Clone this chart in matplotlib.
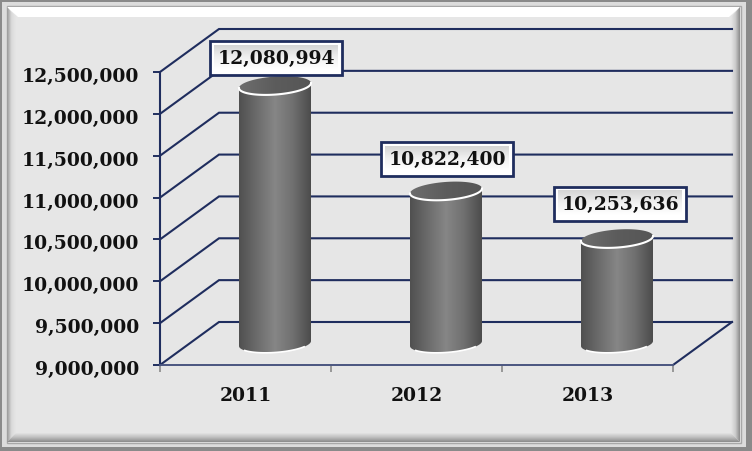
import numpy as np
import matplotlib
matplotlib.use('Agg')
import matplotlib.pyplot as plt
from matplotlib.patches import Polygon, Rectangle
from matplotlib.colors import LinearSegmentedColormap
from matplotlib.transforms import ScaledTranslation

years = ['2011', '2012', '2013']
values = [12080994, 10822400, 10253636]
value_labels = ['12,080,994', '10,822,400', '10,253,636']
yticks = [9000000, 9500000, 10000000, 10500000, 11000000, 11500000, 12000000, 12500000]
ytick_labels = ['9,000,000', '9,500,000', '10,000,000', '10,500,000', '11,000,000', '11,500,000', '12,000,000', '12,500,000']

W, H = 752, 452
DX, DY = 59, -43
NAVY = '#1f2d5e'
FACE = '#e6e6e6'
label_shift = [(1, -28), (1, -32), (3, -35)]

plt.rcParams['font.family'] = ['DejaVu Serif']
plt.rcParams['font.weight'] = 'bold'
fig = plt.figure(figsize=(W/100, H/100), dpi=100, facecolor=FACE)


def pixel_axes(z):
  a = fig.add_axes([0, 0, 1, 1], zorder=z)
  a.set_axis_off()
  return a


def grad(a, box, colors, horizontal=True, clip=None, z=1):
  # box is x0,x1,y0,y1 in pixels, colors run left to right or top to bottom
  cm = LinearSegmentedColormap.from_list('g', colors)
  g = np.linspace(0, 1, 128)
  g = g[None, :] if horizontal else g[:, None]
  im = a.imshow(g, cmap=cm, extent=(box[0], box[1], box[3], box[2]), aspect='auto', zorder=z, interpolation='bilinear')
  if clip is not None:
    p = Polygon(clip, closed=True, transform=a.transData)
    im.set_clip_path(p)
  return im


bg = pixel_axes(0)
ax = fig.add_axes([160/W, (H-366)/H, 513/W, 293/H], zorder=1)
over = pixel_axes(3)

# outer frame and bevel
bg.add_patch(Rectangle((0, 0), W, H, fc='#dcdcdc', ec='none', zorder=0))
for r in [(0, 0, W, 2.5), (0, H-4.5, W, 4.5), (0, 0, 2, H), (W-6, 0, 6, H)]:
  bg.add_patch(Rectangle((r[0], r[1]), r[2], r[3], fc='#8a8a8a', ec='none', zorder=5))
bg.add_patch(Rectangle((6.5, 6.5), 734, 437, fc=FACE, ec='#a8a8a8', lw=1, zorder=0.5))
grad(bg, (7, 740, 8, 18), ['#ffffff', '#ffffff'], False, [(7, 8), (740, 8), (729, 18), (18, 18)])
grad(bg, (7, 16, 8, 443), ['#989898', '#dadada', FACE], True, [(7, 8), (16, 18), (16, 434), (7, 443)])
grad(bg, (731, 740, 8, 443), [FACE, '#cccccc', '#8a8a8a'], True, [(740, 8), (731, 18), (731, 434), (740, 443)])
grad(bg, (7, 740, 434, 443), ['#e4e4e4', '#bcbcbc', '#8a8a8a'], False, [(16, 434), (731, 434), (740, 443), (7, 443)])

# value axis and categories, true scale lives on ax
ax.patch.set_visible(False)
ax.set_xlim(-0.5, 2.5)
ax.set_ylim(9000000, 12500000)
ax.set_yticks(yticks)
ax.set_yticklabels(ytick_labels)
ax.set_xticks([-0.5, 0.5, 1.5, 2.5])
ax.set_xticklabels([])
ax.set_xticks([0, 1, 2], minor=True)
ax.set_xticklabels(years, minor=True)
ax.tick_params(axis='y', length=5, width=1.4, color=NAVY, pad=10, labelsize=13.5, labelcolor='#111111')
ax.tick_params(axis='x', which='major', length=5, width=1.2, color='#8a8a8a')
ax.tick_params(axis='x', which='minor', length=0, pad=15, labelsize=13.5, labelcolor='#111111')
for s in ['top', 'right']:
  ax.spines[s].set_visible(False)
ax.spines['left'].set_color(NAVY)
ax.spines['left'].set_linewidth(1.5)
ax.spines['bottom'].set_color('#4a5680')
ax.spines['bottom'].set_linewidth(1.4)
for lab in ax.get_yticklabels():
  lab.set_transform(lab.get_transform() + ScaledTranslation(0, -2/100, fig.dpi_scale_trans))


def to_px(x, v):
  px = ax.transData.transform((x, v))
  return px[0], H - px[1]


# walls: each gridline runs from the front axis to the back and across
x0 = to_px(-0.5, yticks[0])[0]
x1 = to_px(2.5, yticks[0])[0]
for v in yticks:
  y = to_px(-0.5, v)[1]
  bg.plot([x0, x0+DX, x1+DX], [y, y+DY, y+DY], color=NAVY, lw=1.5, zorder=6, solid_joinstyle='miter')
y = to_px(-0.5, yticks[0])[1]
bg.plot([x1, x1+DX], [y, y+DY], color=NAVY, lw=1.5, zorder=6)

# cylinders
a, b, shear = 36, 9, -2.5
t = np.linspace(0, 2*np.pi, 121)
lower = np.linspace(0, np.pi, 61)
for i, v in enumerate(values):
  cx, ytop = to_px(i, v)
  cx += DX/2
  ytop += DY/2
  ybot = to_px(i, yticks[0])[1] + DY/2
  top_x = cx + a*np.cos(t)
  top_y = ytop + b*np.sin(t) + shear*np.cos(t)
  low_x = cx + a*np.cos(lower)
  low_t = b*np.sin(lower) + shear*np.cos(lower)
  body = list(zip(low_x, ybot + low_t)) + list(zip(low_x[::-1], ytop + low_t[::-1]))
  grad(over, (cx-a, cx+a, ytop-b-4, ybot+b+4), ['#505050', '#6c6c6c', '#868686', '#707070', '#4c4c4c'], True, body, z=2)
  grad(over, (cx-a, cx+a, ytop-b-4, ytop+b+4), ['#6e6e6e', '#5c5c5c', '#565656'], True, list(zip(top_x, top_y)), z=3)
  over.plot(low_x, ytop + low_t, color='white', lw=1.5, zorder=4)
  over.plot(low_x[12:50], ybot + low_t[12:50], color='white', lw=1.2, zorder=4)

  # label box
  lx = cx + label_shift[i][0]
  ly = ytop + label_shift[i][1]
  over.add_patch(Rectangle((lx-66, ly-17), 132, 34, fc='white', ec=NAVY, lw=2, zorder=5))
  grad(over, (lx-62, lx+62, ly-13, ly+11), ['#d4d4d4', '#f0f0f0', '#ffffff'], False, z=6)
  over.text(lx, ly+0.5, value_labels[i], ha='center', va='center', fontsize=13.5, color='#111111', zorder=7)

for a_ in (bg, over):
  a_.set_xlim(0, W)
  a_.set_ylim(H, 0)

fig.savefig('out.png', dpi=100, facecolor=FACE)
